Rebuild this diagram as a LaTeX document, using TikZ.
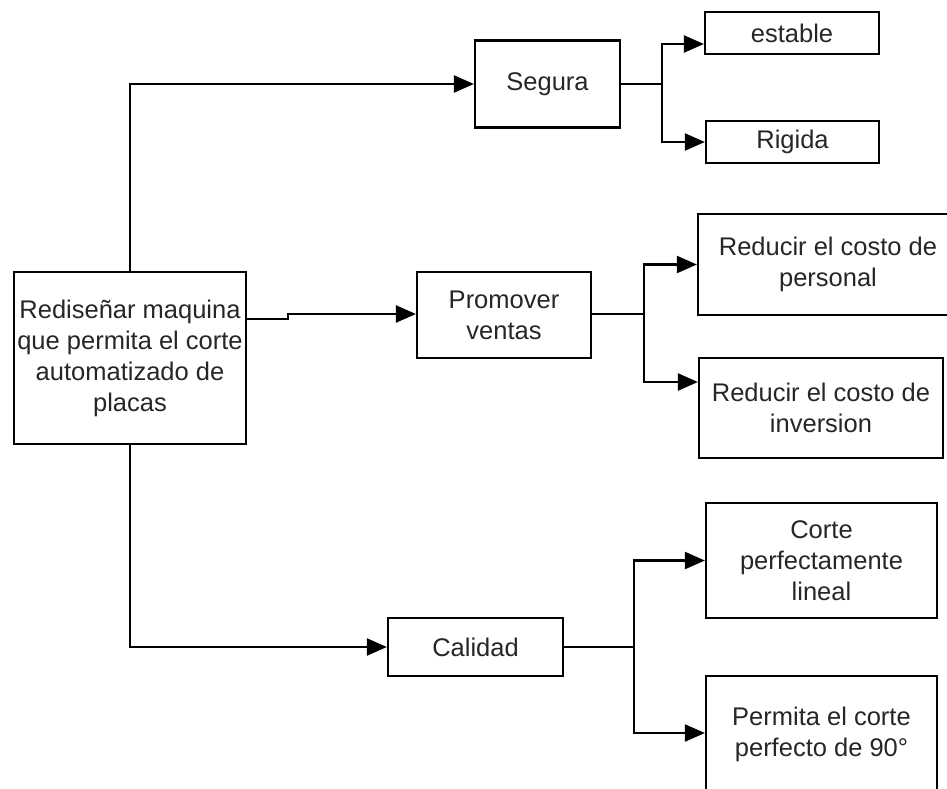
\documentclass[tikz,border=0pt]{standalone}
\usepackage{fontspec}
\setmainfont{Liberation Sans}
\usetikzlibrary{arrows.meta}
\begin{document}
\begin{tikzpicture}[x=1pt,y=-1pt,
  box/.style={draw=black, line width=2.2pt, align=center, inner sep=0pt, text=black!85,
    font=\fontsize{25.5}{31}\selectfont},
  conn/.style={line width=2.2pt, draw=black},
  arr/.style={conn, -{Triangle[length=20pt,width=17pt]}}
]
\useasboundingbox (0,0) rectangle (947,788);
\clip (0,0) rectangle (947,788);
% nodes
\node[box, minimum width=232pt, minimum height=172pt] (root) at (130,358)
  {Rediseñar maquina\\que permita el corte\\automatizado de\\placas};
\node[box, minimum width=145pt, minimum height=87pt] (seg) at (547.5,84) {Segura};
\node[box, minimum width=174pt, minimum height=42pt] (est) at (792,33) {estable};
\node[box, minimum width=173pt, minimum height=42pt] (rig) at (792.5,142) {Rigida};
\node[box, minimum width=174pt, minimum height=86pt] (pro) at (504,315) {Promover\\ventas};
\node[box, minimum width=260pt, minimum height=101pt] (per) at (828,264.5) {Reducir el costo de\\personal};
\node[box, minimum width=244pt, minimum height=100pt] (inv) at (821,408) {Reducir el costo de\\inversion};
\node[box, minimum width=175pt, minimum height=58pt] (cal) at (475.5,647) {Calidad};
\node[box, minimum width=231pt, minimum height=115pt] (cor) at (821.5,560.5) {Corte\\perfectamente\\lineal};
\node[box, minimum width=231pt, minimum height=116pt] (perm) at (821.5,734) {Permita el corte\\perfecto de 90°};
% junction coordinates
\coordinate (jr1) at (288,319);
\coordinate (jr2) at (288,314);
\coordinate (js) at (662,84);
\coordinate (jp) at (644,314);
\coordinate (jc) at (634,647);
% root connectors
\draw[arr] (root.north) |- (seg.west);
\draw[arr] (root.east |- jr1) -- (jr1) -- (jr2) -- (pro.west |- jr2);
\draw[arr] (root.south) |- (cal.west);
% Segura branches
\draw[conn] (seg.east |- js) -- (js);
\draw[arr] (js) |- (est.west |- 0,44);
\draw[arr] (js) |- (rig.west);
% Promover branches
\draw[conn] (pro.east |- jp) -- (jp);
\draw[arr] (jp) |- (per.west);
\draw[arr] (jp) |- (inv.west |- 0,382);
% Calidad branches
\draw[conn] (cal.east) -- (jc);
\draw[arr] (jc) |- (cor.west);
\draw[arr] (jc) |- (perm.west |- 0,733);
\end{tikzpicture}
\end{document}
